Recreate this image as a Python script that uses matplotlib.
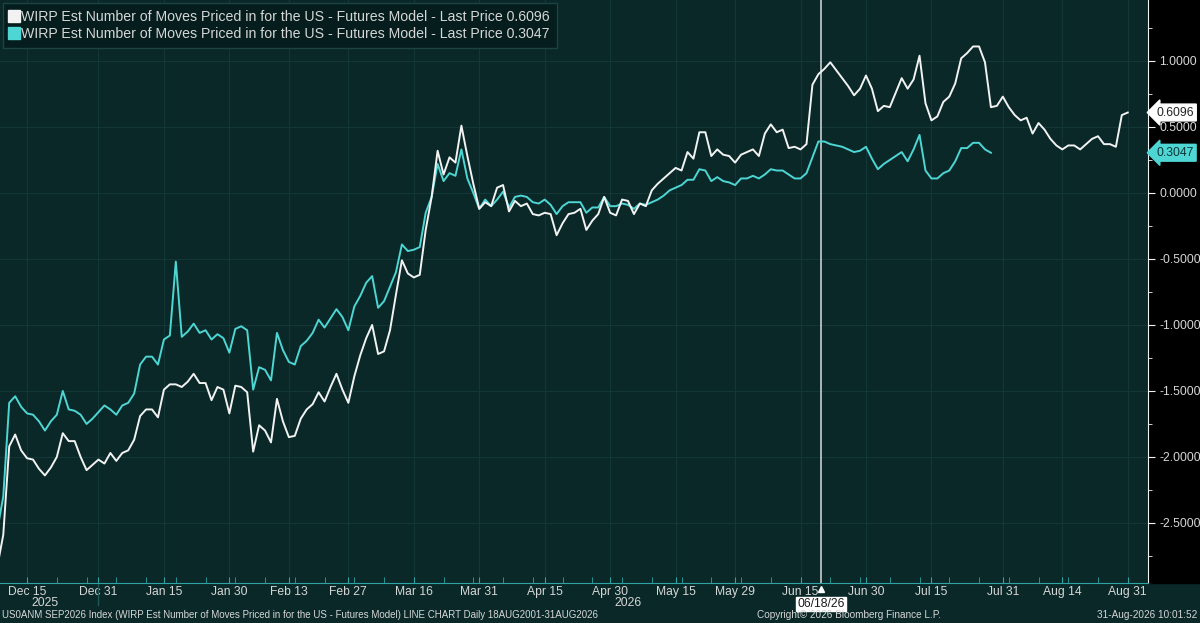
import numpy as np
import pandas as pd
import matplotlib
matplotlib.use("Agg")
import matplotlib.pyplot as plt
import matplotlib.transforms as mtransforms
from matplotlib.lines import Line2D
from matplotlib.patches import Rectangle

plt.rcParams['font.family'] = ['Liberation Sans', 'DejaVu Sans']

# business days shown on the chart
dates = pd.bdate_range('2025-12-08', '2026-08-31')

# futures model (white line), one value per business day
futures_vals = [
    -2.83, -2.59, -1.92, -1.83, -1.95,
    -2.01, -2.02, -2.09, -2.14, -2.08, -2.00, -1.82, -1.88, -1.88, -2.00,
    -2.10, -2.06, -2.02, -2.05, -1.97, -2.03, -1.97, -1.95, -1.87, -1.69,
    -1.64, -1.64, -1.70, -1.49, -1.45, -1.45, -1.47, -1.43, -1.37, -1.44,
    -1.44, -1.57, -1.47, -1.49, -1.67, -1.46, -1.47, -1.51, -1.96, -1.76,
    -1.80, -1.89, -1.56, -1.73, -1.85, -1.84, -1.71, -1.64, -1.60, -1.51,
    -1.58, -1.47, -1.37, -1.49, -1.59, -1.39, -1.23, -1.10, -1.00, -1.22,
    -1.20, -1.04, -0.77, -0.51, -0.61, -0.64, -0.62, -0.28, -0.03, 0.32,
    0.14, 0.27, 0.23, 0.51, 0.28, 0.07, -0.12, -0.07, -0.10, 0.04,
    0.06, -0.14, -0.06, -0.10, -0.08, -0.16, -0.17, -0.15, -0.16, -0.32,
    -0.23, -0.16, -0.15, -0.12, -0.28, -0.21, -0.16, -0.03, -0.15, -0.17,
    -0.05, -0.06, -0.16, -0.08, -0.10, 0.02, 0.07, 0.11, 0.15, 0.19,
    0.17, 0.31, 0.26, 0.46, 0.46, 0.28, 0.33, 0.29, 0.28, 0.23,
    0.29, 0.31, 0.33, 0.28, 0.45, 0.52, 0.46, 0.48, 0.34, 0.35,
    0.33, 0.37, 0.82, 0.90, 0.94, 0.99, 0.93, 0.87, 0.81, 0.74,
    0.79, 0.89, 0.79, 0.62, 0.66, 0.65, 0.76, 0.87, 0.79, 0.86,
    1.04, 0.68, 0.55, 0.58, 0.69, 0.73, 0.83, 1.02, 1.06, 1.11,
    1.11, 0.99, 0.65, 0.66, 0.73, 0.65, 0.59, 0.55, 0.57, 0.45,
    0.53, 0.48, 0.41, 0.36, 0.33, 0.36, 0.36, 0.33, 0.37, 0.41,
    0.43, 0.37, 0.37, 0.35, 0.59, 0.6096,
]

# second series (cyan), stops end of July
second_vals = [
    -2.55, -2.30, -1.59, -1.54, -1.62,
    -1.67, -1.68, -1.73, -1.80, -1.73, -1.68, -1.50, -1.64, -1.65, -1.68,
    -1.75, -1.71, -1.66, -1.61, -1.64, -1.68, -1.61, -1.59, -1.52, -1.30,
    -1.24, -1.24, -1.30, -1.11, -1.08, -0.52, -1.09, -1.05, -0.99, -1.06,
    -1.04, -1.11, -1.07, -1.10, -1.21, -1.03, -1.01, -1.04, -1.49, -1.32,
    -1.34, -1.42, -1.06, -1.19, -1.28, -1.30, -1.16, -1.12, -1.06, -0.96,
    -1.02, -0.95, -0.88, -0.94, -1.04, -0.86, -0.78, -0.68, -0.63, -0.87,
    -0.82, -0.71, -0.60, -0.39, -0.44, -0.43, -0.41, -0.15, -0.03, 0.22,
    0.09, 0.15, 0.13, 0.33, 0.11, 0.00, -0.12, -0.05, -0.10, -0.05,
    0.01, -0.11, -0.03, -0.02, -0.03, -0.07, -0.08, -0.05, -0.09, -0.16,
    -0.10, -0.07, -0.07, -0.07, -0.15, -0.11, -0.11, -0.03, -0.10, -0.10,
    -0.08, -0.09, -0.12, -0.08, -0.09, -0.07, -0.05, -0.02, 0.02, 0.04,
    0.06, 0.10, 0.10, 0.18, 0.17, 0.09, 0.12, 0.09, 0.08, 0.06,
    0.11, 0.11, 0.13, 0.11, 0.14, 0.18, 0.17, 0.17, 0.14, 0.11,
    0.11, 0.15, 0.27, 0.39, 0.39, 0.37, 0.36, 0.35, 0.33, 0.31,
    0.32, 0.35, 0.26, 0.18, 0.22, 0.25, 0.28, 0.31, 0.24, 0.33,
    0.44, 0.17, 0.11, 0.11, 0.15, 0.17, 0.24, 0.34, 0.34, 0.38,
    0.38, 0.33, 0.3047,
]

tick_dates = ['2025-12-15', '2025-12-31', '2026-01-15', '2026-01-30', '2026-02-13',
              '2026-02-27', '2026-03-16', '2026-03-31', '2026-04-15', '2026-04-30',
              '2026-05-15', '2026-05-29', '2026-06-15', '2026-06-30', '2026-07-15',
              '2026-07-31', '2026-08-14', '2026-08-31']
tick_labels = ['Dec 15', 'Dec 31', 'Jan 15', 'Jan 30', 'Feb 13', 'Feb 27', 'Mar 16',
               'Mar 31', 'Apr 15', 'Apr 30', 'May 15', 'May 29', 'Jun 15', 'Jun 30',
               'Jul 15', 'Jul 31', 'Aug 14', 'Aug 31']
y_ticks = [1.0, 0.5, 0.0, -0.5, -1.0, -1.5, -2.0, -2.5]
marker_date = '2026-06-18'
legend_labels = ['WIRP Est Number of Moves Priced in for the US - Futures Model - Last Price 0.6096',
                 'WIRP Est Number of Moves Priced in for the US - Futures Model - Last Price 0.3047']

BG = '#0a2828'
WHITE = '#f2f2f2'
CYAN = '#4dd6d3'
TXT = '#d6d6d6'

x_all = np.arange(len(dates))
x_white = x_all[:len(futures_vals)]
x_cyan = x_all[:len(second_vals)]

fig = plt.figure(figsize=(12, 6.23), dpi=100, facecolor=BG)
ax = fig.add_axes([0, 40 / 623, 1148 / 1200, 583 / 623])
ax.set_facecolor(BG)

# black strip behind the right axis
fig.patches.append(Rectangle((1148 / 1200, 40 / 623), 52 / 1200, 583 / 623,
                             transform=fig.transFigure, color='black', zorder=-1))

ax.plot(x_white, futures_vals, color=WHITE, lw=1.4, zorder=4)
ax.plot(x_cyan, second_vals, color=CYAN, lw=1.4, zorder=3)

d0 = dates.get_loc(pd.Timestamp('2025-12-15'))

# x ticks
tick_pos = [dates.get_loc(pd.Timestamp(d)) for d in tick_dates]
ax.set_xticks(tick_pos)
ax.set_xticklabels(tick_labels)
ax.set_xticks(np.arange(d0 % 5, len(dates), 5), minor=True)
ax.tick_params(axis='x', which='both', colors='#2fa3a3', direction='in', length=4,
               labelcolor=TXT, labelsize=8.7, pad=2)

# y ticks on the right
ax.yaxis.tick_right()
ax.set_yticks(y_ticks)
ax.set_yticklabels([f'{v:.4f}' for v in y_ticks])
ax.set_yticks(np.arange(-2.75, 1.5, 0.5), minor=True)
ax.tick_params(axis='y', which='major', colors=WHITE, direction='out', length=5,
               labelcolor=TXT, labelsize=8.7, pad=3)
ax.tick_params(axis='y', which='minor', colors=WHITE, direction='out', length=3)

ax.set_xlim(d0 - 4.55, d0 + 188.4)
ax.set_ylim(-2.955, 1.462)

ax.grid(True, which='major', color='#133636', lw=0.8)
ax.set_axisbelow(True)
for s in ['top', 'left']:
    ax.spines[s].set_visible(False)
ax.spines['right'].set_color(WHITE)
ax.spines['bottom'].set_color('#2fa3a3')

# year labels and year break
trans = mtransforms.blended_transform_factory(ax.transData, ax.transAxes)
ax.text(dates.get_loc(pd.Timestamp('2025-12-18')), -0.034, '2025', transform=trans,
        color=TXT, fontsize=8.7, ha='center', va='center')
ax.text(dates.get_loc(pd.Timestamp('2026-05-05')), -0.034, '2026', transform=trans,
        color=TXT, fontsize=8.7, ha='center', va='center')
yb = dates.get_loc(pd.Timestamp('2025-12-31'))
ax.plot([yb, yb], [0, -0.038], transform=trans, color='#1f5656', lw=1, clip_on=False)

# vertical marker line
mpos = dates.get_loc(pd.Timestamp(marker_date)) + 0.4
ax.axvline(mpos, color='#d8dede', lw=1.1, zorder=2)
ax.plot([mpos], [-0.01], transform=trans, marker='^', color='white', ms=5,
        clip_on=False, zorder=6)
ax.text(mpos, -0.036, pd.Timestamp(marker_date).strftime('%m/%d/%y'), transform=trans,
        color='#1a1a1a', fontsize=8.7, ha='center', va='center', zorder=7,
        bbox=dict(boxstyle='square,pad=0.12', fc='white', ec='white'))

# last price tags
ax.annotate(f'{futures_vals[-1]:.4f}', xy=(1, futures_vals[-1]),
            xycoords=('axes fraction', 'data'), xytext=(6, 0), textcoords='offset points',
            color='#222222', fontsize=8.7, va='center', ha='left', annotation_clip=False,
            bbox=dict(boxstyle='larrow,pad=0.2', fc='white', ec='white'))
ax.annotate(f'{second_vals[-1]:.4f}', xy=(1, second_vals[-1]),
            xycoords=('axes fraction', 'data'), xytext=(6, 0), textcoords='offset points',
            color='#0d3535', fontsize=8.7, va='center', ha='left', annotation_clip=False,
            bbox=dict(boxstyle='larrow,pad=0.2', fc=CYAN, ec=CYAN))

# legend
handles = [Line2D([], [], marker='s', ls='none', color=WHITE, ms=8),
           Line2D([], [], marker='s', ls='none', color=CYAN, ms=8)]
leg = ax.legend(handles, legend_labels, loc='upper left', bbox_to_anchor=(0.0, 1.0),
                frameon=True, fontsize=10.2, handlelength=0.6, handletextpad=0.2,
                borderpad=0.5, labelspacing=0.2, borderaxespad=0.2, fancybox=False)
leg.get_frame().set_facecolor('#051d1d')
leg.get_frame().set_edgecolor('#1c4444')
leg.get_frame().set_alpha(1)
for t in leg.get_texts():
    t.set_color(TXT)

# footer
fig.text(0.002, 0.0128, 'US0ANM SEP2026 Index (WIRP Est Number of Moves Priced in for the US - '
         'Futures Model) LINE CHART Daily 18AUG2001-31AUG2026', color=TXT, fontsize=7.0,
         ha='left', va='center')
fig.text(0.7075, 0.0128, 'Copyright\u00a9 2026 Bloomberg Finance L.P.', color=TXT,
         fontsize=7.2, ha='center', va='center')
fig.text(0.998, 0.0128, '31-Aug-2026 10:01:52', color=TXT, fontsize=7.2,
         ha='right', va='center')

fig.savefig('out.png', dpi=100, facecolor=BG)
